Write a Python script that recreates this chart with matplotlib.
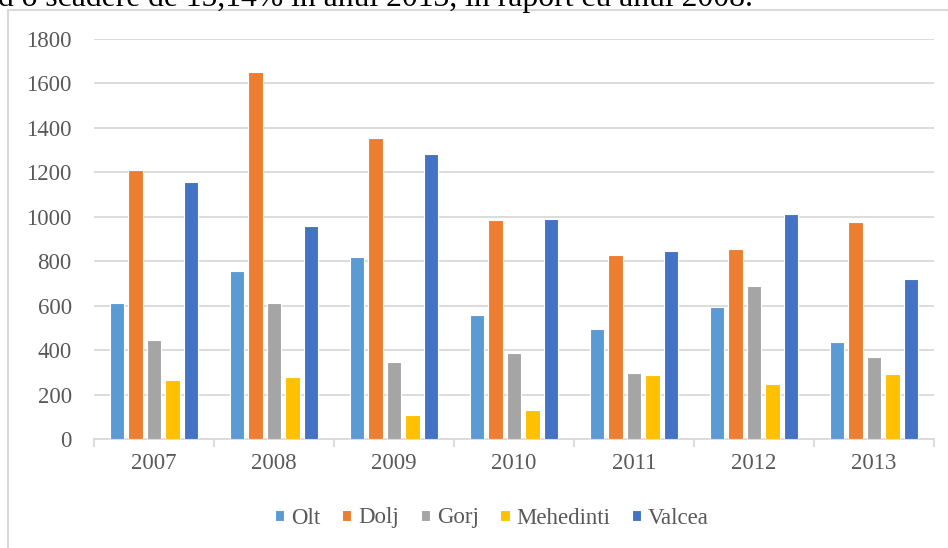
import numpy as np
import matplotlib.pyplot as plt
from matplotlib.patches import Rectangle

years = ['2007', '2008', '2009', '2010', '2011', '2012', '2013']
olt = [611, 756, 820, 556, 494, 593, 438]
dolj = [1211, 1652, 1353, 985, 828, 855, 978]
gorj = [447, 610, 348, 386, 299, 688, 371]
mehedinti = [267, 281, 108, 131, 288, 248, 292]
valcea = [1157, 958, 1284, 988, 847, 1013, 722]

series = [('Olt', olt, '#5B9BD5'), ('Dolj', dolj, '#ED7D31'),
          ('Gorj', gorj, '#A5A5A5'), ('Mehedinti', mehedinti, '#FFC000'),
          ('Valcea', valcea, '#4472C4')]

plt.rcParams['font.family'] = ['Liberation Serif', 'DejaVu Serif']

fig = plt.figure(figsize=(9.48, 5.48), dpi=100)
ax = fig.add_axes([94 / 948, 109 / 548, 840 / 948, 400 / 548])

x = np.arange(len(years))
step = 0.154
width = 0.122
for i, (name, vals, col) in enumerate(series):
    ax.bar(x + (i - 2) * step, vals, width, color=col, label=name,
           edgecolor='white', linewidth=0.8, zorder=3)

ax.set_xlim(-0.5, len(years) - 0.5)
ax.set_ylim(0, 1800)
ax.set_yticks(range(0, 1801, 200))
ax.yaxis.grid(True, color='#d9d9d9', linewidth=1.3, zorder=0)
ax.tick_params(axis='y', length=0, pad=16, labelsize=16.5, labelcolor='#595959')

ax.set_xticks(x)
ax.set_xticklabels(years)
ax.set_xticks(np.arange(-0.5, len(years)), minor=True)
ax.tick_params(axis='x', which='major', length=0, pad=10, labelsize=16.5,
               labelcolor='#595959')
ax.tick_params(axis='x', which='minor', length=6, width=1.3, color='#d9d9d9')

for s in ['top', 'right', 'left']:
    ax.spines[s].set_visible(False)
ax.spines['bottom'].set_color('#d9d9d9')
ax.spines['bottom'].set_linewidth(1.3)

leg = fig.legend(loc='center', bbox_to_anchor=(492 / 948, 30 / 548), ncol=5,
                 frameon=False, fontsize=16.5, handlelength=0.4, handleheight=0.4,
                 handletextpad=0.3, columnspacing=0.95, labelcolor='#595959')

# chart border and cut-off text above
fig.patches.append(Rectangle((8 / 948, -0.05), 1.0, 1 - 10 / 548 + 0.05,
                             transform=fig.transFigure, fill=False,
                             edgecolor='#d9d9d9', linewidth=1.5))
fig.text(-2 / 948, 1 - 6 / 548, 'd o scadere de 15,14% in anul 2013, in raport cu anul 2008.',
         fontsize=22.8, color='black', va='baseline', ha='left')

fig.savefig('out.png', dpi=100)
